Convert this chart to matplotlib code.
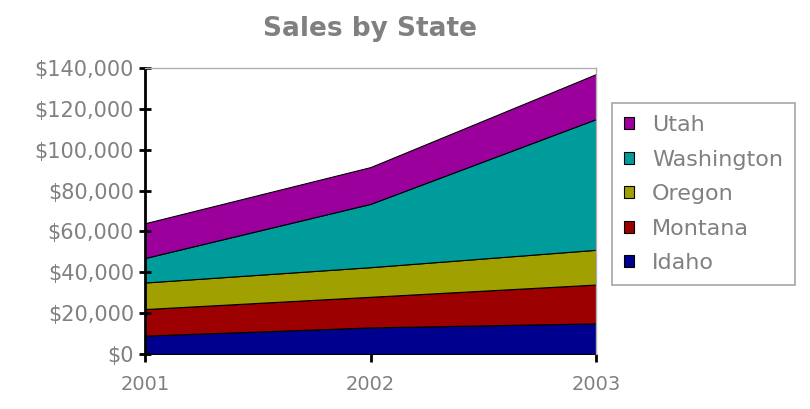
import matplotlib
matplotlib.use("Agg")
import matplotlib.pyplot as plt
from matplotlib.patches import Patch
from matplotlib.ticker import FuncFormatter

years = [2001, 2002, 2003]
states = ["Idaho", "Montana", "Oregon", "Washington", "Utah"]
idaho = [9000, 13000, 15000]
montana = [13000, 15000, 19000]
oregon = [13000, 14500, 17000]
washington = [12000, 31000, 64000]
utah = [17000, 18000, 22000]
colors = ["#00008f", "#9c0000", "#a0a000", "#009c9c", "#9c009c"]

text_gray = "#808080"

fig = plt.figure(figsize=(8.1, 4.09), dpi=100)
ax = fig.add_axes([145 / 810, 1 - 354 / 409, (596 - 145) / 810, (354 - 68) / 409])

ax.stackplot(years, idaho, montana, oregon, washington, utah,
             colors=colors, edgecolor="black", linewidth=0.8)

ax.set_xlim(2001, 2003)
ax.set_ylim(0, 140000)
ax.set_xticks(years)
ax.set_yticks(range(0, 140001, 20000))
ax.yaxis.set_major_formatter(FuncFormatter(lambda v, p: "${:,.0f}".format(v)))

for s in ["top", "right"]:
    ax.spines[s].set_color("#b0b0b0")
    ax.spines[s].set_linewidth(1)
ax.spines["bottom"].set_visible(False)
ax.spines["left"].set_color("black")
ax.spines["left"].set_linewidth(2)

ax.tick_params(axis="y", direction="inout", length=8, width=2, colors="black",
               labelcolor=text_gray, labelsize=15, pad=4)
ax.tick_params(axis="x", direction="out", length=6, width=2, colors="black",
               labelcolor=text_gray, labelsize=14, pad=9)

fig.text(370 / 810, 1 - 29 / 409, "Sales by State", ha="center", va="center",
         fontsize=19, fontweight="bold", color=text_gray)

handles = [Patch(facecolor=c, edgecolor="black", linewidth=0.8) for c in colors]
leg = fig.legend(handles[::-1], states[::-1], loc="upper left",
                 bbox_to_anchor=(612 / 810, 1 - 103 / 409), frameon=True,
                 fancybox=False, fontsize=16, handlelength=0.45, handleheight=0.45,
                 handletextpad=0.8, labelspacing=0.65, borderpad=0.55,
                 borderaxespad=0)
leg.get_frame().set_edgecolor("#909090")
leg.get_frame().set_linewidth(1.2)
for t in leg.get_texts():
    t.set_color(text_gray)

fig.savefig("out.png", dpi=100)
